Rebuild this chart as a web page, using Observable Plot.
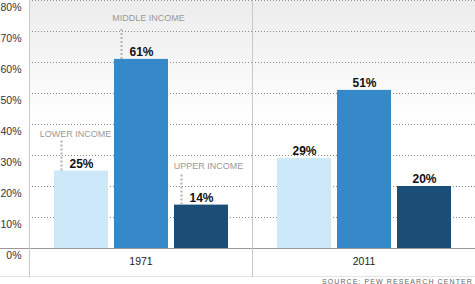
<!DOCTYPE html>
<html>
<head>
<meta charset="utf-8">
<script src="https://cdn.jsdelivr.net/npm/d3@7"></script>
<script src="https://cdn.jsdelivr.net/npm/@observablehq/plot@0.6"></script>
<style>
  html, body { margin: 0; padding: 0; background: #fff; }
  #chart svg { display: block; }
  #src {
    width: 475px; box-sizing: border-box; text-align: right; padding-right: 2px;
    font-family: "Liberation Sans", Arial, sans-serif; font-size: 7px; letter-spacing: 1.1px;
    line-height: 7px; color: #666; border-top: 1px solid #e4e4e4; padding-top: 1px;
  }
</style>
</head>
<body>
<div id="chart"></div>
<div id="src">SOURCE: PEW RESEARCH CENTER</div>
<script>
const years = ["1971", "2011"];
const groups = ["Lower income", "Middle income", "Upper income"];
const groupLabels = ["LOWER INCOME", "MIDDLE INCOME", "UPPER INCOME"];
const values1971 = [25, 61, 14];
const values2011 = [29, 51, 20];
const yTicks = [0, 10, 20, 30, 40, 50, 60, 70, 80];
const colors = ["#cde9f9", "#3589c9", "#1a4e77"];

const seriesByYear = [values1971, values2011];
const data = years.flatMap((yr, i) => groups.map((g, j) => ({year: yr, group: g, label: groupLabels[j], value: seriesByYear[i][j]})));
const first = data.filter(d => d.year === years[0]);

// styling nudges for the annotation labels (px)
const labelDx = [-6, 7, 7];
const labelDy = [-37, -41, -39];

const font = "Liberation Sans, Arial, sans-serif";

const labelMarks = first.map((d, j) => Plot.text([d], {
  fx: "year", x: "group", y: "value", text: "label",
  dx: labelDx[j], dy: labelDy[j], fontSize: 9, fill: "#999"
}));

const chart = Plot.plot({
  width: 475, height: 276,
  marginLeft: 29, marginRight: 0, marginTop: 0, marginBottom: 28,
  style: {fontFamily: font, background: "transparent", overflow: "visible"},
  fx: {domain: years, padding: 0, axis: null},
  x: {domain: groups, paddingInner: 0.1, paddingOuter: 0.408, axis: null},
  y: {domain: [0, 80], axis: null},
  color: {domain: groups, range: colors},
  marks: [
    Plot.frame({fill: "url(#bggrad)", stroke: "none"}),
    Plot.gridY(yTicks.filter(t => t > 0), {stroke: "#8a8a8a", strokeOpacity: 1, strokeDasharray: "1,2"}),
    Plot.barY(data, {fx: "year", x: "group", y: "value", fill: "group"}),
    Plot.ruleY([0], {stroke: "#9a9a9a", insetLeft: -29}),
    Plot.frame({anchor: "left", stroke: "#c8c8c8", insetBottom: -28}),
    Plot.axisY({ticks: yTicks, tickSize: 0, tickPadding: 8, tickFormat: d => d + "%", dy: 7, fontSize: 10.5, fill: "#333", label: null}),
    Plot.axisFx({anchor: "bottom", tickSize: 0, tickPadding: 9, fontSize: 10.5, fill: "#222", label: null}),
    Plot.text(data, {fx: "year", x: "group", y: "value", text: d => d.value + "%", dy: -7, fontSize: 12, fontWeight: "bold", fill: "#111"}),
    Plot.ruleX(first, {fx: "year", x: "group", y1: "value", y2: d => d.value + 10, dx: -20, stroke: "#b0b0b0", strokeWidth: 2, strokeDasharray: "2,2"}),
    ...labelMarks
  ]
});

const defs = d3.select(chart).insert("defs", ":first-child");
const g = defs.append("linearGradient").attr("id", "bggrad").attr("x1", 0).attr("y1", 0).attr("x2", 0).attr("y2", 1);
g.append("stop").attr("offset", "0%").attr("stop-color", "#ececec");
g.append("stop").attr("offset", "50%").attr("stop-color", "#ffffff");
g.append("stop").attr("offset", "100%").attr("stop-color", "#ffffff");

document.getElementById("chart").appendChild(chart);
</script>
</body>
</html>
